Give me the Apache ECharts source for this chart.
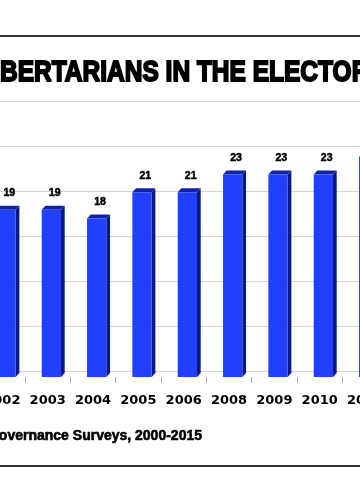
<!DOCTYPE html>
<html><head><meta charset="utf-8">
<script src="https://cdn.jsdelivr.net/npm/echarts@6/dist/echarts.min.js"></script>
<style>html,body{margin:0;padding:0;background:#fff}#c{width:360px;height:504px}</style>
</head><body><div id="c"></div>
<script>
const categories = ['2002','2003','2004','2005','2006','2008','2009','2010','2011'];
const values = [19, 19, 18, 21, 21, 23, 23, 23, 25];
const titleText = 'LIBERTARIANS IN THE ELECTORATE';
const sourceText = 'Source: Governance Surveys, 2000-2015';

const chart = echarts.init(document.getElementById('c'), null, {renderer: 'canvas'});
const ctx = document.createElement('canvas').getContext('2d');
const titleFont = 'bold 24.5px "Liberation Sans"';
ctx.font = titleFont;
const titleShift = ctx.measureText('LI').width;

function renderItem(params, api) {
  const top = api.coord([api.value(0), api.value(1)]);
  const base = api.coord([api.value(0), 0]);
  const x = top[0] - 6, w = 19.3, dx = 3.7, dy = 4;
  const y = top[1], b = base[1];
  return {type: 'group', children: [
    {type: 'polygon', shape: {points: [[x + w, y], [x + w + dx, y - dy], [x + w + dx, b - dy], [x + w, b]]}, style: {fill: '#0a1785'}},
    {type: 'polygon', shape: {points: [[x, y], [x + dx, y - dy], [x + w + dx, y - dy], [x + w, y]]}, style: {fill: '#0f22a8'}},
    {type: 'rect', shape: {x: x, y: y, width: w, height: b - y}, style: {fill: '#2140fb'}},
    {type: 'text', x: top[0] + 7, y: y - 16.5, style: {text: String(api.value(1)), font: 'bold 10.5px "Liberation Sans"', fill: '#000', stroke: '#000', lineWidth: 0.5, align: 'center', verticalAlign: 'middle', textAlign: 'center', textVerticalAlign: 'middle'}}
  ]};
}

const option = {
  animation: false,
  backgroundColor: '#fff',
  grid: [
    {left: -20.3, right: -27.7, top: 113, bottom: 127, outerBoundsMode: 'none', containLabel: false},
    {left: -10, right: -10, top: 101, bottom: 132.3, outerBoundsMode: 'none', containLabel: false}
  ],
  xAxis: [
    {type: 'category', gridIndex: 0, data: categories, offset: 5,
     axisLine: {show: false},
     axisTick: {show: true, length: 6, lineStyle: {color: '#aaa'}},
     axisLabel: {interval: 0, margin: 12, fontFamily: 'DejaVu Sans', fontWeight: 'bold', fontSize: 13, color: '#000'},
     splitLine: {show: false}},
    {type: 'value', gridIndex: 1, show: false}
  ],
  yAxis: [
    {type: 'value', gridIndex: 0, min: 0, max: 30, show: false},
    {type: 'value', gridIndex: 1, min: 0, max: 30, interval: 5,
     axisLine: {show: false}, axisTick: {show: false}, axisLabel: {show: false},
     splitLine: {show: true, lineStyle: {color: '#d4d4d4', width: 1}}}
  ],
  graphic: [
    {type: 'line', shape: {x1: 0, y1: 36, x2: 360, y2: 36}, style: {stroke: '#333', lineWidth: 2}},
    {type: 'line', shape: {x1: 0, y1: 466, x2: 360, y2: 466}, style: {stroke: '#333', lineWidth: 2}},
    {type: 'text', x: -titleShift, y: 73, scaleY: 1.2,
     style: {text: titleText, font: titleFont, fill: '#000', stroke: '#000', lineWidth: 1.6, align: 'left', verticalAlign: 'middle', textAlign: 'left', textVerticalAlign: 'middle'}},
    {type: 'text', x: 202, y: 435.7,
     style: {text: sourceText, font: 'bold 14px "Liberation Sans"', fill: '#000', stroke: '#000', lineWidth: 0.6, align: 'right', verticalAlign: 'middle', textAlign: 'right', textVerticalAlign: 'middle'}}
  ],
  series: [{
    type: 'custom', xAxisIndex: 0, yAxisIndex: 0, z: 5,
    data: categories.map((c, i) => [i, values[i]]),
    renderItem: renderItem
  }]
};
chart.setOption(option);
</script></body></html>
